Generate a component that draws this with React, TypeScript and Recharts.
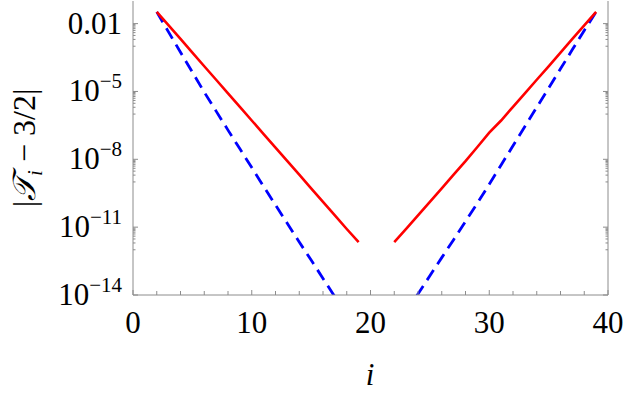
import { LineChart, Line, XAxis, YAxis } from 'recharts';

const steps = [2, 3, 4, 5, 6, 7, 8, 9, 10, 11, 12, 13, 14, 15, 16, 17, 18, 19, 20, 21, 22, 23, 24, 25, 26, 27, 28, 29, 30, 31, 32, 33, 34, 35, 36, 37, 38, 39];

const redVals = [
  3.3e-2, 8.3e-3, 2.1e-3, 5.2e-4, 1.3e-4, 3.3e-5, 8.3e-6, 2.1e-6, 5.2e-7, 1.3e-7,
  3.3e-8, 8.3e-9, 2.1e-9, 5.2e-10, 1.3e-10, 3.3e-11, 8.3e-12, 2.2e-12, null, null,
  2.2e-12, 8.3e-12, 3.3e-11, 1.3e-10, 5.2e-10, 2.1e-9, 8.3e-9, 3.5e-8, 1.5e-7, 5.2e-7,
  2.1e-6, 8.3e-6, 3.3e-5, 1.3e-4, 5.2e-4, 2.1e-3, 8.3e-3, 3.3e-2,
];

const blueVals = [
  3.3e-2, 4.2e-3, 5.4e-4, 7.1e-5, 9.3e-6, 1.35e-6, 1.95e-7, 2.9e-8, 4.3e-9, 6.3e-10,
  9.5e-11, 1.45e-11, 2.2e-12, 3.5e-13, 5.4e-14, 8.3e-15, 1.3e-15, null, null, null,
  null, 1.8e-15, 1.1e-14, 7.1e-14, 4.5e-13, 2.8e-12, 1.8e-11, 1.15e-10, 7.9e-10, 5.6e-9,
  4.0e-8, 2.8e-7, 2.0e-6, 1.4e-5, 1.0e-4, 7.1e-4, 5.0e-3, 3.3e-2,
];

const xMajor = [0, 10, 20, 30, 40];
const xLabels = ['0', '10', '20', '30', '40'];
const xMinor = [2, 4, 6, 8, 12, 14, 16, 18, 22, 24, 26, 28, 32, 34, 36, 38];

const yMajor = [1e-14, 1e-11, 1e-8, 1e-5, 1e-2];
const yBase = ['10', '10', '10', '10', '0.01'];
const yExp = ['\u221214', '\u221211', '\u22128', '\u22125', ''];

const data = steps.map((i, k) => ({ i, red: redVals[k], blue: blueVals[k] }));

const Y_MIN = 1e-14;
const Y_MAX = 0.1;
// minor log ticks: a cluster below each labelled decade
const yMinor: number[] = [];
yMajor.forEach((m) => {
  for (let k = 1; k <= 9; k++) {
    const v = (k * m) / 10;
    if (v > Y_MIN) yMinor.push(v);
  }
});
const xTicks = [...xMajor, ...xMinor].sort((a, b) => a - b);
const yTicks = [...yMajor, ...yMinor].sort((a, b) => a - b);

const serif = { fontFamily: "'Liberation Serif', 'DejaVu Serif', serif" };
const FRAME = '#8c8c8c';

const isMajorY = (v: number) => yMajor.some((m) => Math.abs(v / m - 1) < 1e-6);

function BottomTick(props: any) {
  const { x, y, payload } = props;
  const idx = xMajor.indexOf(payload.value);
  const major = idx >= 0;
  return (
    <g>
      <line x1={x} x2={x} y1={y} y2={y - (major ? 5 : 4)} stroke={FRAME} />
      {major && (
        <text x={x} y={y + 38} textAnchor="middle" fontSize={31} style={serif} fill="#000">
          {xLabels[idx]}
        </text>
      )}
    </g>
  );
}

function TopTick(props: any) {
  const { x, y, payload } = props;
  const major = xMajor.includes(payload.value);
  return <line x1={x} x2={x} y1={y} y2={y + (major ? 5 : 4)} stroke={FRAME} />;
}

function LeftTick(props: any) {
  const { x, y, payload } = props;
  const v = payload.value;
  const idx = yMajor.findIndex((m) => Math.abs(v / m - 1) < 1e-6);
  const major = idx >= 0;
  return (
    <g>
      <line x1={x} x2={x + (major ? 5 : 2.5)} y1={y} y2={y} stroke={FRAME} />
      {major && (
        <text x={x - 11} y={y + 10} textAnchor="end" fontSize={31} style={serif} fill="#000">
          {yBase[idx]}
          {yExp[idx] && (
            <tspan dy={-13} fontSize={21}>
              {yExp[idx]}
            </tspan>
          )}
        </text>
      )}
    </g>
  );
}

function RightTick(props: any) {
  const { x, y, payload } = props;
  const major = isMajorY(payload.value);
  return <line x1={x} x2={x - (major ? 5 : 2.5)} y1={y} y2={y} stroke={FRAME} />;
}

export default function App() {
  return (
    <div style={{ position: 'absolute', left: 0, top: 0, width: 625, height: 394, background: '#fff' }}>
      <LineChart width={625} height={394} data={data} margin={{ top: 1, right: 0, bottom: 0, left: 0 }}>
        <XAxis
          dataKey="i"
          type="number"
          domain={[0, 40]}
          ticks={xTicks}
          interval={0}
          height={99}
          tickSize={0}
          tickMargin={0}
          tick={<BottomTick />}
          axisLine={{ stroke: FRAME }}
        />
        <XAxis
          xAxisId="top"
          orientation="top"
          type="number"
          domain={[0, 40]}
          ticks={xTicks}
          interval={0}
          height={0}
          tickSize={0}
          tickMargin={0}
          tick={<TopTick />}
          axisLine={{ stroke: FRAME }}
        />
        <YAxis
          type="number"
          scale="log"
          domain={[Y_MIN, Y_MAX]}
          allowDataOverflow
          ticks={yTicks}
          interval={0}
          width={133}
          tickSize={0}
          tickMargin={0}
          tick={<LeftTick />}
          axisLine={{ stroke: FRAME }}
        />
        <YAxis
          yAxisId="right"
          orientation="right"
          type="number"
          scale="log"
          domain={[Y_MIN, Y_MAX]}
          allowDataOverflow
          ticks={yTicks}
          interval={0}
          width={17}
          tickSize={0}
          tickMargin={0}
          tick={<RightTick />}
          axisLine={{ stroke: FRAME }}
        />
        <Line
          type="linear"
          dataKey="blue"
          stroke="#0000ff"
          strokeWidth={2.8}
          strokeDasharray="12 7"
          dot={false}
          connectNulls={false}
          isAnimationActive={false}
        />
        <Line
          type="linear"
          dataKey="red"
          stroke="#ff0000"
          strokeWidth={2.6}
          dot={false}
          connectNulls={false}
          isAnimationActive={false}
        />
        <text x={370} y={385} textAnchor="middle" fontSize={31} fontStyle="italic" style={serif} fill="#000">
          i
        </text>
        <text
          transform="translate(35,148) rotate(-90)"
          textAnchor="middle"
          fontSize={32}
          style={serif}
          fill="#000"
        >
          |<tspan fontStyle="italic">{'\u{1D4AF}'}</tspan>
          <tspan fontStyle="italic" fontSize={21} dy={7}>
            i
          </tspan>
          <tspan dy={-7}>{' \u2212 3/2|'}</tspan>
        </text>
      </LineChart>
    </div>
  );
}
